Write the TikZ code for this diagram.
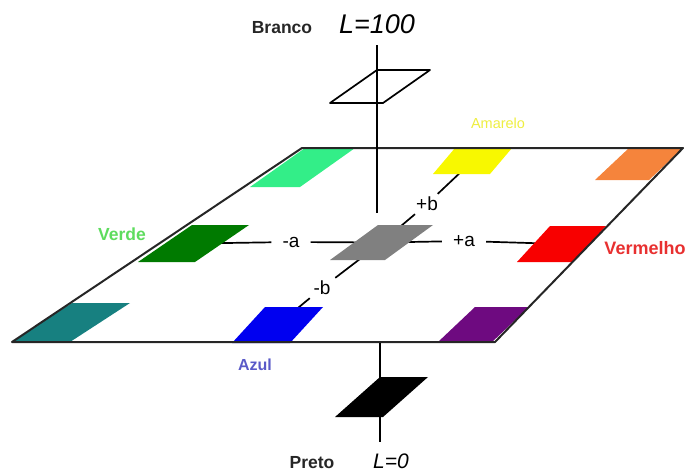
\documentclass[tikz,border=0pt]{standalone}
\usepackage{fontspec}
\setmainfont{Liberation Sans}
\usepackage{xcolor}
\usetikzlibrary{backgrounds}

\definecolor{springc}{HTML}{33EE88}
\definecolor{yellowc}{HTML}{F8F800}
\definecolor{orangec}{HTML}{F5843C}
\definecolor{dkgreenc}{HTML}{007A00}
\definecolor{grayc}{HTML}{808080}
\definecolor{redc}{HTML}{F80000}
\definecolor{tealc}{HTML}{178080}
\definecolor{bluec}{HTML}{0000F0}
\definecolor{purplec}{HTML}{6E0A80}
\definecolor{verdetxt}{HTML}{5EDC5E}
\definecolor{amarelotxt}{HTML}{EEEE40}
\definecolor{vermelhotxt}{HTML}{E83030}
\definecolor{azultxt}{HTML}{5A5AC8}

% slanted patch: name, style, bottom-left x, bottom y, side, height, lean
\newcommand{\cpatch}[7]{%
  \path[#2] (#3,#4) -- ++(#5,0) -- ++(#7,-#6) -- ++(-#5,0) -- cycle;
  \coordinate (#1) at ({#3+(#5+#7)/2},{#4-#6/2});}

\begin{document}
\begin{tikzpicture}[
    x=1pt, y=-1pt,
    axis/.style={line width=1.7pt, black},
    sign/.style={font=\fontsize{19}{22}\selectfont, inner xsep=11pt, inner ysep=3pt},
    cname/.style={font=\fontsize{17.5}{20}\selectfont\bfseries, text=#1},
    cname/.default=black!85,
    lum/.style={font=\fontsize{27}{30}\selectfont\itshape},
]
\useasboundingbox (0,0) rectangle (686,472);

% colour patches on the a*b* plane
\cpatch{spring}{fill=springc}{250}{187}{50}{39}{55}
\cpatch{yellow}{fill=yellowc}{433}{174}{57}{26}{22}
\cpatch{orange}{fill=orangec}{595}{180}{54}{32}{34}
\cpatch{dkgreen}{fill=dkgreenc}{138}{262}{57}{37}{54}
\cpatch{gray}{fill=grayc}{330}{260}{55}{35}{48}
\cpatch{red}{fill=redc}{517}{262}{56}{36}{33}
\cpatch{teal}{fill=tealc}{12}{342}{58}{39}{60}
\cpatch{blue}{fill=bluec}{232}{343}{58}{36}{33}
\cpatch{purple}{fill=purplec}{438}{342}{54}{35}{37}

% texts
\node[cname] (branco) at (282,28) {Branco};
\node[lum] (l100) at (377,24) {L=100};
\node[cname] (preto) at (312,463) {Preto};
\node[lum, font=\fontsize{21}{24}\selectfont\itshape] (l0) at (391,461) {L=0};
\node[cname=verdetxt] (verde) at (122,234) {Verde};
\node[font=\fontsize{14.5}{17}\selectfont, text=amarelotxt] (amarelo) at (498,123) {Amarelo};
\node[cname=vermelhotxt, font=\fontsize{18}{21}\selectfont\bfseries] (vermelho) at (645,248) {Vermelho};
\node[cname=azultxt, font=\fontsize{16}{19}\selectfont\bfseries] (azul) at (255,365) {Azul};

\node[sign] (ma) at (291,242) {-a};
\node[sign] (pa) at (464,241) {+a};
\node[sign] (pb) at (427,204) {+b};
\node[sign] (mb) at (322,288) {-b};

% a and b axes, under the patches
\begin{scope}[on background layer]
\draw[axis] (dkgreen) -- (ma);
\draw[axis] (ma) -- (gray);
\draw[axis] (gray) -- (pa);
\draw[axis] (pa) -- (red);
\draw[axis] (gray) -- (pb);
\draw[axis] (pb) -- (yellow);
\draw[axis] (gray) -- (mb);
\draw[axis] (mb) -- (blue);
\end{scope}

% plane outline
\draw[line width=2pt, black!85, line join=round] (12,342) -- (302,148) -- (683,148) -- (495,342) -- cycle;

% L axis with white and black
\coordinate (vtop) at (377,45);
\coordinate (vmid) at (377,213);
\coordinate (vbot) at (380,343);
\coordinate (vend) at (380,442);
\draw[axis] (vtop) -- (vmid);
\draw[axis] (vbot) -- (vend);
\cpatch{white}{draw=black, line width=1.7pt, line join=round}{330}{103}{53}{33}{47}
\cpatch{black}{fill=black}{335}{417}{48}{40}{45}
\end{tikzpicture}
\end{document}
